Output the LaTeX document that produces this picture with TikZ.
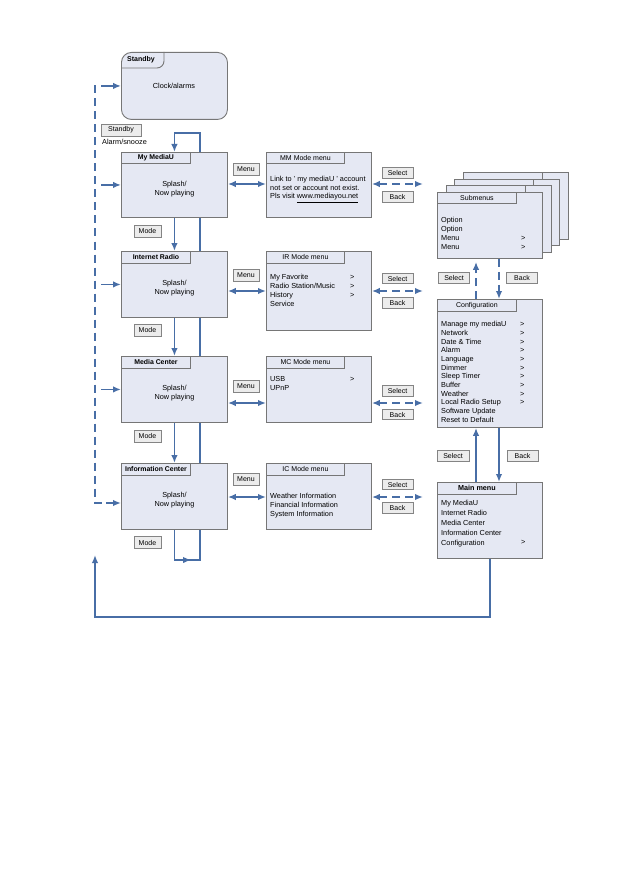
\documentclass[tikz,border=0pt]{standalone}
\usepackage{fontspec}
\setmainfont{Liberation Sans}
\usetikzlibrary{arrows.meta,backgrounds,calc}

\definecolor{panel}{RGB}{229,232,243}
\definecolor{frame}{RGB}{118,118,118}
\definecolor{flow}{RGB}{72,110,166}
\definecolor{keycap}{RGB}{236,236,236}

\tikzset{
  panel/.style={draw=frame, fill=panel, line width=0.9pt, anchor=north west, inner sep=0pt},
  tab/.style={draw=frame, fill=panel, line width=0.9pt, anchor=north west, inner sep=0pt,
    minimum height=11.5pt, font=\fontsize{7}{8}\selectfont},
  key/.style={draw=frame!90, fill=keycap, line width=0.7pt, minimum width=31pt,
    minimum height=10.5pt, inner sep=0pt, font=\fontsize{7}{8}\selectfont},
  item/.style={anchor=west, inner sep=0pt, text height=5.3pt, text depth=1.5pt,
    font=\fontsize{7.3}{8}\selectfont},
  say/.style={align=center, inner sep=0pt, font=\fontsize{7.3}{9}\selectfont},
  link/.style={draw=flow, line width=1.7pt},
  hop/.style={link, dash pattern=on 8pt off 5pt},
}

\begin{document}
\begin{tikzpicture}[x=1pt, y=-1pt, >={Latex[length=8pt,width=6.5pt]}]
\useasboundingbox (0,0) rectangle (629,893);

% standby
\node[panel, rounded corners=10pt, minimum width=106pt, minimum height=67pt] (standby) at (121,52) {};
\draw[frame, line width=0.9pt, rounded corners=7pt] (121,68) -- (164,68) -- (164,52);
\node[say, font=\fontsize{7}{8}\selectfont\bfseries] (stbytitle) at (141,60) {Standby};
\node[say] (clock) at (174,86) {Clock/alarms};
\node[key, minimum width=40pt, minimum height=12pt] (stbykey) at (121,130) {Standby};
\node[item] (snooze) at (102,143) {Alarm/snooze};

% play modes
\node[panel, minimum width=106pt, minimum height=65pt] (mymu) at (121,152) {};
\node[panel, minimum width=106pt, minimum height=66pt] (ir) at (121,251) {};
\node[panel, minimum width=106pt, minimum height=66pt] (mc) at (121,356) {};
\node[panel, minimum width=106pt, minimum height=66pt] (ic) at (121,463) {};
\node[tab, minimum width=69pt, font=\fontsize{6.9}{8}\selectfont\bfseries] (mymutab) at (mymu.north west) {My MediaU};
\node[tab, minimum width=69pt, font=\fontsize{6.9}{8}\selectfont\bfseries] (irtab) at (ir.north west) {Internet Radio};
\node[tab, minimum width=69pt, font=\fontsize{6.9}{8}\selectfont\bfseries] (mctab) at (mc.north west) {Media Center};
\node[tab, minimum width=69pt, font=\fontsize{6.9}{8}\selectfont\bfseries] (ictab) at (ic.north west) {Information Center};
\foreach \b in {mymu,ir,mc,ic}
  \node[say] (\b splash) at ($(\b.north)+(0,37)$) {Splash/\\Now playing};

\node[key, minimum width=27pt, minimum height=12pt] (mode1) at (147.5,231) {Mode};
\node[key, minimum width=27pt, minimum height=12pt] (mode2) at (147.5,330) {Mode};
\node[key, minimum width=27pt, minimum height=12pt] (mode3) at (147.5,436) {Mode};
\node[key, minimum width=27pt, minimum height=12pt] (mode4) at (147.5,542.5) {Mode};

% mode menus
\node[panel, minimum width=105pt, minimum height=65pt] (mm) at (266,152) {};
\node[panel, minimum width=105pt, minimum height=79pt] (irm) at (266,251) {};
\node[panel, minimum width=105pt, minimum height=66pt] (mcm) at (266,356) {};
\node[panel, minimum width=105pt, minimum height=66pt] (icm) at (266,463) {};
\node[tab, minimum width=78pt] (mmtab) at (mm.north west) {MM Mode menu};
\node[tab, minimum width=78pt] (irmtab) at (irm.north west) {IR Mode menu};
\node[tab, minimum width=78pt] (mcmtab) at (mcm.north west) {MC Mode menu};
\node[tab, minimum width=78pt] (icmtab) at (icm.north west) {IC Mode menu};

\node[item] (mm1) at (270,180) {Link to ' my mediaU ' account};
\node[item] (mm2) at (270,188.5) {not set or account not exist.};
\node[item] (mm3) at (270,197) {Pls visit \underline{www.mediayou.net}};
\foreach \t [count=\i from 0] in {My Favorite, Radio Station/Music, History, Service}
  \node[item] (irm\i) at (270,{278+8.7*\i}) {\t};
\foreach \i in {0,1,2}
  \node[item] (irmgt\i) at (350,{278+8.7*\i}) {>};
\node[item] (mcm0) at (270,380) {USB};
\node[item] (mcm1) at (270,389) {UPnP};
\node[item] (mcmgt) at (350,380) {>};
\foreach \t [count=\i from 0] in {Weather Information, Financial Information, System Information}
  \node[item] (icm\i) at (270,{497+8.6*\i}) {\t};

\foreach \y [count=\i] in {169,275,386.5,479.5}
  \node[key, minimum width=26pt, minimum height=12pt] (menu\i) at (246,\y) {Menu};
\foreach \y [count=\i] in {173,278.5,391,484.5}
  \node[key] (sel\i) at (397.5,\y) {Select};
\foreach \y [count=\i] in {197,303,414.5,508}
  \node[key] (back\i) at (397.5,\y) {Back};

% submenus, configuration, main menu
\foreach \k in {3,2,1} {
  \node[panel, minimum width=105pt, minimum height=66pt] (sub\k) at ({437+8.5*\k},{192-6.5*\k}) {};
  \node[tab, minimum width=79pt] (sub\k tab) at (sub\k.north west) {};
}
\node[panel, minimum width=105pt, minimum height=66pt] (sub) at (437,192) {};
\node[tab, minimum width=79pt] (subtab) at (sub.north west) {Submenus};
\foreach \t [count=\i from 0] in {Option, Option, Menu, Menu}
  \node[item] (sub\i) at (441,{221+9*\i}) {\t};
\node[item] (subgt0) at (521,239) {>};
\node[item] (subgt1) at (521,248) {>};

\node[panel, minimum width=105pt, minimum height=128pt] (cfg) at (437,299) {};
\node[tab, minimum width=79pt] (cfgtab) at (cfg.north west) {Configuration};
\foreach \t [count=\i from 0] in {Manage my mediaU, Network, Date \& Time, Alarm, Language,
    Dimmer, Sleep Timer, Buffer, Weather, Local Radio Setup, Software Update, Reset to Default}
  \node[item] (cfg\i) at (441,{325+8.65*\i}) {\t};
\foreach \i in {0,...,9}
  \node[item] (cfggt\i) at (520,{325+8.65*\i}) {>};

\node[panel, minimum width=105pt, minimum height=76pt] (main) at (437,482) {};
\node[tab, minimum width=79pt, font=\fontsize{7.2}{8}\selectfont\bfseries] (maintab) at (main.north west) {Main menu};
\foreach \t [count=\i from 0] in {My MediaU, Internet Radio, Media Center, Information Center, Configuration}
  \node[item] (main\i) at (441,{504+9.8*\i}) {\t};
\node[item] (maingt) at (521,543) {>};

\node[key] (subsel) at (454,278) {Select};
\node[key] (subback) at (522,278) {Back};
\node[key, minimum width=32pt] (cfgsel) at (453,456) {Select};
\node[key] (cfgback) at (522.5,456) {Back};

% rows and turning points
\coordinate (rowa) at (0,184);
\coordinate (rowb) at (0,291);
\coordinate (rowc) at (0,403);
\coordinate (rowd) at (0,497);
\coordinate (spinetop) at (95,85.5);
\coordinate (spinebot) at (95,503);
\coordinate (looptop) at (200,133);
\coordinate (loopbot) at (200,560);
\coordinate (retrow) at (0,617);
\coordinate (retcorner) at (95,617);
\coordinate (retend) at (95,555);

\begin{pgfonlayer}{background}
\fill[white] (0,0) rectangle (629,893);
\draw[link,->] (mymu.south) -- (ir.north);
\draw[link,->] (ir.south) -- (mc.north);
\draw[link,->] (mc.south) -- (ic.north);
\draw[link,->] (ic.south) -- (ic.south |- loopbot) -- (loopbot) -- (looptop)
  -- (looptop -| mymu.north) -- (mymu.north);
\draw[link,->] (ic.south |- loopbot) -- ($(ic.south |- loopbot)!0.65!(loopbot)$);
\end{pgfonlayer}

% menu keys
\draw[link,<->] (mymu.east |- rowa) -- (mm.west |- rowa);
\draw[link,<->] (ir.east |- rowb) -- (irm.west |- rowb);
\draw[link,<->] (mc.east |- rowc) -- (mcm.west |- rowc);
\draw[link,<->] (ic.east |- rowd) -- (icm.west |- rowd);

% select / back
\draw[hop,<->] (mm.east |- rowa) -- (423,184);
\draw[hop,<->] (irm.east |- rowb) -- (423,291);
\draw[hop,<->] (mcm.east |- rowc) -- (423,403);
\draw[hop,<->] (icm.east |- rowd) -- (423,497);

\draw[hop,->] ($(cfg.north west)+(39,0)$) -- ($(sub.south west)+(39,3)$);
\draw[hop,->] ($(sub.south west)+(62,0)$) -- ($(cfg.north west)+(62,0)$);
\draw[link,->] ($(main.north west)+(39,0)$) -- ($(cfg.south west)+(39,0)$);
\draw[link,->] ($(cfg.south west)+(62,0)$) -- ($(main.north west)+(62,0)$);

% standby / wake up
\draw[hop] (spinetop) -- (spinebot) -- ($(spinebot)+(8,0)$);
\draw[link,->] ($(standby.west)+(-20,0)$) -- (standby.west);
\draw[link,->] ($(mymu.west)+(-20,0)$) -- (mymu.west);
\draw[link,->] ($(ir.west)+(-20,0)$) -- (ir.west);
\draw[link,->] ($(mc.west)+(-20,0)$) -- (mc.west);
\draw[link,->] ($(spinebot)+(11,0)$) -- (ic.west |- spinebot);

\draw[link,->] (main.south) -- (main.south |- retrow) -- (retcorner) -- (retend);
\end{tikzpicture}
\end{document}
